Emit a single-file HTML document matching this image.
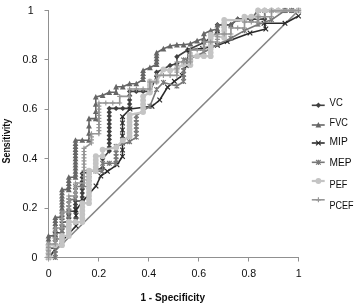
<!DOCTYPE html>
<html><head><meta charset="utf-8"><title>ROC curves</title>
<style>
html,body{margin:0;padding:0;background:#fff;}
svg{display:block;}
text{font-family:"Liberation Sans",sans-serif;fill:#0d0d0d;}
</style></head><body>
<svg width="360" height="305" viewBox="0 0 360 305">
<defs><filter id="soft" x="-2%" y="-2%" width="104%" height="104%"><feGaussianBlur stdDeviation="0.4"/></filter></defs>
<rect width="360" height="305" fill="#fff"/>
<g filter="url(#soft)">

<g stroke="#909090" stroke-width="1" fill="none">
<path d="M48.5,10 V257.5 H299"/>
<path d="M44.5,257.5 H48.5"/>
<path d="M48.5,257.5 V261.5"/>
<path d="M44.5,208.5 H48.5"/>
<path d="M98.5,257.5 V261.5"/>
<path d="M44.5,158.5 H48.5"/>
<path d="M148.5,257.5 V261.5"/>
<path d="M44.5,109.5 H48.5"/>
<path d="M198.5,257.5 V261.5"/>
<path d="M44.5,59.5 H48.5"/>
<path d="M248.5,257.5 V261.5"/>
<path d="M44.5,10.5 H48.5"/>
<path d="M298.5,257.5 V261.5"/>
</g>
<path d="M48.5,257.5 L298.5,10.5" stroke="#858585" stroke-width="1.65" fill="none"/>
<g><path d="M48.5,257.5 L48.5,248.2 L55.3,248.2 L55.3,232.8 L62.0,232.8 L62.0,222.0 L68.8,222.0 L68.8,211.2 L75.5,211.2 L75.5,201.0 L82.3,201.0 L82.3,173.5 L102.6,168.0 L102.6,158.7 L109.3,151.0 L109.3,108.4 L129.6,108.4 L129.6,91.4 L149.9,91.4 L156.6,76.3 L156.6,72.2 L170.1,65.5 L176.9,63.6 L176.9,56.8 L187.7,50.0 L203.9,42.6 L217.4,32.4 L217.4,24.7 L230.9,24.7 L237.7,19.1 L264.7,19.1 L264.7,10.5 L298.5,10.5" stroke="#404040" stroke-width="1.6" fill="none" stroke-linejoin="round"/><path d="M48.5,254.8 l2.7,2.7 l-2.7,2.7 l-2.7,-2.7z" fill="#404040"/><path d="M48.5,245.5 l2.7,2.7 l-2.7,2.7 l-2.7,-2.7z" fill="#404040"/><path d="M55.3,245.5 l2.7,2.7 l-2.7,2.7 l-2.7,-2.7z" fill="#404040"/><path d="M55.3,241.7 l2.7,2.7 l-2.7,2.7 l-2.7,-2.7z" fill="#404040"/><path d="M55.3,237.8 l2.7,2.7 l-2.7,2.7 l-2.7,-2.7z" fill="#404040"/><path d="M55.3,234.0 l2.7,2.7 l-2.7,2.7 l-2.7,-2.7z" fill="#404040"/><path d="M55.3,230.1 l2.7,2.7 l-2.7,2.7 l-2.7,-2.7z" fill="#404040"/><path d="M62.0,230.1 l2.7,2.7 l-2.7,2.7 l-2.7,-2.7z" fill="#404040"/><path d="M62.0,226.5 l2.7,2.7 l-2.7,2.7 l-2.7,-2.7z" fill="#404040"/><path d="M62.0,222.9 l2.7,2.7 l-2.7,2.7 l-2.7,-2.7z" fill="#404040"/><path d="M62.0,219.3 l2.7,2.7 l-2.7,2.7 l-2.7,-2.7z" fill="#404040"/><path d="M68.8,219.3 l2.7,2.7 l-2.7,2.7 l-2.7,-2.7z" fill="#404040"/><path d="M68.8,215.7 l2.7,2.7 l-2.7,2.7 l-2.7,-2.7z" fill="#404040"/><path d="M68.8,212.1 l2.7,2.7 l-2.7,2.7 l-2.7,-2.7z" fill="#404040"/><path d="M68.8,208.5 l2.7,2.7 l-2.7,2.7 l-2.7,-2.7z" fill="#404040"/><path d="M75.5,208.5 l2.7,2.7 l-2.7,2.7 l-2.7,-2.7z" fill="#404040"/><path d="M75.5,205.1 l2.7,2.7 l-2.7,2.7 l-2.7,-2.7z" fill="#404040"/><path d="M75.5,201.7 l2.7,2.7 l-2.7,2.7 l-2.7,-2.7z" fill="#404040"/><path d="M75.5,198.3 l2.7,2.7 l-2.7,2.7 l-2.7,-2.7z" fill="#404040"/><path d="M82.3,198.3 l2.7,2.7 l-2.7,2.7 l-2.7,-2.7z" fill="#404040"/><path d="M82.3,194.4 l2.7,2.7 l-2.7,2.7 l-2.7,-2.7z" fill="#404040"/><path d="M82.3,190.4 l2.7,2.7 l-2.7,2.7 l-2.7,-2.7z" fill="#404040"/><path d="M82.3,186.5 l2.7,2.7 l-2.7,2.7 l-2.7,-2.7z" fill="#404040"/><path d="M82.3,182.6 l2.7,2.7 l-2.7,2.7 l-2.7,-2.7z" fill="#404040"/><path d="M82.3,178.7 l2.7,2.7 l-2.7,2.7 l-2.7,-2.7z" fill="#404040"/><path d="M82.3,174.7 l2.7,2.7 l-2.7,2.7 l-2.7,-2.7z" fill="#404040"/><path d="M82.3,170.8 l2.7,2.7 l-2.7,2.7 l-2.7,-2.7z" fill="#404040"/><path d="M102.6,165.3 l2.7,2.7 l-2.7,2.7 l-2.7,-2.7z" fill="#404040"/><path d="M102.6,156.0 l2.7,2.7 l-2.7,2.7 l-2.7,-2.7z" fill="#404040"/><path d="M109.3,148.3 l2.7,2.7 l-2.7,2.7 l-2.7,-2.7z" fill="#404040"/><path d="M109.3,144.4 l2.7,2.7 l-2.7,2.7 l-2.7,-2.7z" fill="#404040"/><path d="M109.3,140.5 l2.7,2.7 l-2.7,2.7 l-2.7,-2.7z" fill="#404040"/><path d="M109.3,136.7 l2.7,2.7 l-2.7,2.7 l-2.7,-2.7z" fill="#404040"/><path d="M109.3,132.8 l2.7,2.7 l-2.7,2.7 l-2.7,-2.7z" fill="#404040"/><path d="M109.3,128.9 l2.7,2.7 l-2.7,2.7 l-2.7,-2.7z" fill="#404040"/><path d="M109.3,125.0 l2.7,2.7 l-2.7,2.7 l-2.7,-2.7z" fill="#404040"/><path d="M109.3,121.2 l2.7,2.7 l-2.7,2.7 l-2.7,-2.7z" fill="#404040"/><path d="M109.3,117.3 l2.7,2.7 l-2.7,2.7 l-2.7,-2.7z" fill="#404040"/><path d="M109.3,113.4 l2.7,2.7 l-2.7,2.7 l-2.7,-2.7z" fill="#404040"/><path d="M109.3,109.5 l2.7,2.7 l-2.7,2.7 l-2.7,-2.7z" fill="#404040"/><path d="M109.3,105.7 l2.7,2.7 l-2.7,2.7 l-2.7,-2.7z" fill="#404040"/><path d="M116.1,105.7 l2.7,2.7 l-2.7,2.7 l-2.7,-2.7z" fill="#404040"/><path d="M122.8,105.7 l2.7,2.7 l-2.7,2.7 l-2.7,-2.7z" fill="#404040"/><path d="M129.6,105.7 l2.7,2.7 l-2.7,2.7 l-2.7,-2.7z" fill="#404040"/><path d="M129.6,101.4 l2.7,2.7 l-2.7,2.7 l-2.7,-2.7z" fill="#404040"/><path d="M129.6,97.2 l2.7,2.7 l-2.7,2.7 l-2.7,-2.7z" fill="#404040"/><path d="M129.6,92.9 l2.7,2.7 l-2.7,2.7 l-2.7,-2.7z" fill="#404040"/><path d="M129.6,88.7 l2.7,2.7 l-2.7,2.7 l-2.7,-2.7z" fill="#404040"/><path d="M136.3,88.7 l2.7,2.7 l-2.7,2.7 l-2.7,-2.7z" fill="#404040"/><path d="M143.1,88.7 l2.7,2.7 l-2.7,2.7 l-2.7,-2.7z" fill="#404040"/><path d="M149.9,88.7 l2.7,2.7 l-2.7,2.7 l-2.7,-2.7z" fill="#404040"/><path d="M156.6,73.6 l2.7,2.7 l-2.7,2.7 l-2.7,-2.7z" fill="#404040"/><path d="M156.6,69.5 l2.7,2.7 l-2.7,2.7 l-2.7,-2.7z" fill="#404040"/><path d="M170.1,62.8 l2.7,2.7 l-2.7,2.7 l-2.7,-2.7z" fill="#404040"/><path d="M176.9,60.9 l2.7,2.7 l-2.7,2.7 l-2.7,-2.7z" fill="#404040"/><path d="M176.9,54.1 l2.7,2.7 l-2.7,2.7 l-2.7,-2.7z" fill="#404040"/><path d="M187.7,47.3 l2.7,2.7 l-2.7,2.7 l-2.7,-2.7z" fill="#404040"/><path d="M203.9,39.9 l2.7,2.7 l-2.7,2.7 l-2.7,-2.7z" fill="#404040"/><path d="M217.4,29.7 l2.7,2.7 l-2.7,2.7 l-2.7,-2.7z" fill="#404040"/><path d="M217.4,22.0 l2.7,2.7 l-2.7,2.7 l-2.7,-2.7z" fill="#404040"/><path d="M224.2,22.0 l2.7,2.7 l-2.7,2.7 l-2.7,-2.7z" fill="#404040"/><path d="M230.9,22.0 l2.7,2.7 l-2.7,2.7 l-2.7,-2.7z" fill="#404040"/><path d="M237.7,16.4 l2.7,2.7 l-2.7,2.7 l-2.7,-2.7z" fill="#404040"/><path d="M244.4,16.4 l2.7,2.7 l-2.7,2.7 l-2.7,-2.7z" fill="#404040"/><path d="M251.2,16.4 l2.7,2.7 l-2.7,2.7 l-2.7,-2.7z" fill="#404040"/><path d="M258.0,16.4 l2.7,2.7 l-2.7,2.7 l-2.7,-2.7z" fill="#404040"/><path d="M264.7,16.4 l2.7,2.7 l-2.7,2.7 l-2.7,-2.7z" fill="#404040"/><path d="M264.7,7.8 l2.7,2.7 l-2.7,2.7 l-2.7,-2.7z" fill="#404040"/><path d="M271.5,7.8 l2.7,2.7 l-2.7,2.7 l-2.7,-2.7z" fill="#404040"/><path d="M278.2,7.8 l2.7,2.7 l-2.7,2.7 l-2.7,-2.7z" fill="#404040"/><path d="M285.0,7.8 l2.7,2.7 l-2.7,2.7 l-2.7,-2.7z" fill="#404040"/><path d="M291.7,7.8 l2.7,2.7 l-2.7,2.7 l-2.7,-2.7z" fill="#404040"/><path d="M298.5,7.8 l2.7,2.7 l-2.7,2.7 l-2.7,-2.7z" fill="#404040"/></g>
<g><path d="M48.5,257.5 L48.5,235.9 L55.3,235.9 L55.3,217.4 L62.0,217.4 L62.0,189.6 L68.8,189.6 L68.8,177.2 L75.5,177.2 L75.5,140.2 L89.0,140.2 L89.0,133.1 L89.0,126.0 L89.0,118.6 L95.8,118.6 L95.8,111.5 L95.8,104.1 L95.8,97.0 L102.6,95.4 L109.3,92.3 L116.1,92.3 L116.1,86.8 L122.8,86.8 L129.6,83.7 L136.3,83.7 L143.1,79.4 L143.1,70.4 L149.9,67.6 L156.6,64.5 L156.6,52.8 L163.4,48.8 L170.1,46.0 L176.9,44.8 L183.6,44.8 L190.4,43.8 L197.1,40.8 L203.9,38.6 L203.9,33.7 L210.7,30.6 L217.4,29.0 L217.4,25.0 L230.9,25.0 L237.7,19.1 L251.2,19.1 L258.0,10.5 L298.5,10.5" stroke="#666666" stroke-width="1.6" fill="none" stroke-linejoin="round"/><path d="M48.5,254.5 l2.9,5.6 h-5.8z" fill="#666666"/><path d="M48.5,251.4 l2.9,5.6 h-5.8z" fill="#666666"/><path d="M48.5,248.3 l2.9,5.6 h-5.8z" fill="#666666"/><path d="M48.5,245.2 l2.9,5.6 h-5.8z" fill="#666666"/><path d="M48.5,242.2 l2.9,5.6 h-5.8z" fill="#666666"/><path d="M48.5,239.1 l2.9,5.6 h-5.8z" fill="#666666"/><path d="M48.5,236.0 l2.9,5.6 h-5.8z" fill="#666666"/><path d="M48.5,232.9 l2.9,5.6 h-5.8z" fill="#666666"/><path d="M55.3,232.9 l2.9,5.6 h-5.8z" fill="#666666"/><path d="M55.3,229.8 l2.9,5.6 h-5.8z" fill="#666666"/><path d="M55.3,226.7 l2.9,5.6 h-5.8z" fill="#666666"/><path d="M55.3,223.6 l2.9,5.6 h-5.8z" fill="#666666"/><path d="M55.3,220.5 l2.9,5.6 h-5.8z" fill="#666666"/><path d="M55.3,217.5 l2.9,5.6 h-5.8z" fill="#666666"/><path d="M55.3,214.4 l2.9,5.6 h-5.8z" fill="#666666"/><path d="M62.0,214.4 l2.9,5.6 h-5.8z" fill="#666666"/><path d="M62.0,211.3 l2.9,5.6 h-5.8z" fill="#666666"/><path d="M62.0,208.2 l2.9,5.6 h-5.8z" fill="#666666"/><path d="M62.0,205.1 l2.9,5.6 h-5.8z" fill="#666666"/><path d="M62.0,202.0 l2.9,5.6 h-5.8z" fill="#666666"/><path d="M62.0,198.9 l2.9,5.6 h-5.8z" fill="#666666"/><path d="M62.0,195.8 l2.9,5.6 h-5.8z" fill="#666666"/><path d="M62.0,192.8 l2.9,5.6 h-5.8z" fill="#666666"/><path d="M62.0,189.7 l2.9,5.6 h-5.8z" fill="#666666"/><path d="M62.0,186.6 l2.9,5.6 h-5.8z" fill="#666666"/><path d="M68.8,186.6 l2.9,5.6 h-5.8z" fill="#666666"/><path d="M68.8,183.5 l2.9,5.6 h-5.8z" fill="#666666"/><path d="M68.8,180.4 l2.9,5.6 h-5.8z" fill="#666666"/><path d="M68.8,177.3 l2.9,5.6 h-5.8z" fill="#666666"/><path d="M68.8,174.2 l2.9,5.6 h-5.8z" fill="#666666"/><path d="M75.5,174.2 l2.9,5.6 h-5.8z" fill="#666666"/><path d="M75.5,171.1 l2.9,5.6 h-5.8z" fill="#666666"/><path d="M75.5,168.1 l2.9,5.6 h-5.8z" fill="#666666"/><path d="M75.5,165.0 l2.9,5.6 h-5.8z" fill="#666666"/><path d="M75.5,161.9 l2.9,5.6 h-5.8z" fill="#666666"/><path d="M75.5,158.8 l2.9,5.6 h-5.8z" fill="#666666"/><path d="M75.5,155.7 l2.9,5.6 h-5.8z" fill="#666666"/><path d="M75.5,152.6 l2.9,5.6 h-5.8z" fill="#666666"/><path d="M75.5,149.5 l2.9,5.6 h-5.8z" fill="#666666"/><path d="M75.5,146.4 l2.9,5.6 h-5.8z" fill="#666666"/><path d="M75.5,143.4 l2.9,5.6 h-5.8z" fill="#666666"/><path d="M75.5,140.3 l2.9,5.6 h-5.8z" fill="#666666"/><path d="M75.5,137.2 l2.9,5.6 h-5.8z" fill="#666666"/><path d="M82.3,137.2 l2.9,5.6 h-5.8z" fill="#666666"/><path d="M89.0,137.2 l2.9,5.6 h-5.8z" fill="#666666"/><path d="M89.0,130.1 l2.9,5.6 h-5.8z" fill="#666666"/><path d="M89.0,123.0 l2.9,5.6 h-5.8z" fill="#666666"/><path d="M89.0,115.6 l2.9,5.6 h-5.8z" fill="#666666"/><path d="M95.8,115.6 l2.9,5.6 h-5.8z" fill="#666666"/><path d="M95.8,108.5 l2.9,5.6 h-5.8z" fill="#666666"/><path d="M95.8,101.1 l2.9,5.6 h-5.8z" fill="#666666"/><path d="M95.8,94.0 l2.9,5.6 h-5.8z" fill="#666666"/><path d="M102.6,92.4 l2.9,5.6 h-5.8z" fill="#666666"/><path d="M109.3,89.3 l2.9,5.6 h-5.8z" fill="#666666"/><path d="M116.1,89.3 l2.9,5.6 h-5.8z" fill="#666666"/><path d="M116.1,83.8 l2.9,5.6 h-5.8z" fill="#666666"/><path d="M122.8,83.8 l2.9,5.6 h-5.8z" fill="#666666"/><path d="M129.6,80.7 l2.9,5.6 h-5.8z" fill="#666666"/><path d="M136.3,80.7 l2.9,5.6 h-5.8z" fill="#666666"/><path d="M143.1,76.4 l2.9,5.6 h-5.8z" fill="#666666"/><path d="M143.1,73.4 l2.9,5.6 h-5.8z" fill="#666666"/><path d="M143.1,70.4 l2.9,5.6 h-5.8z" fill="#666666"/><path d="M143.1,67.4 l2.9,5.6 h-5.8z" fill="#666666"/><path d="M149.9,64.6 l2.9,5.6 h-5.8z" fill="#666666"/><path d="M156.6,61.5 l2.9,5.6 h-5.8z" fill="#666666"/><path d="M156.6,58.6 l2.9,5.6 h-5.8z" fill="#666666"/><path d="M156.6,55.7 l2.9,5.6 h-5.8z" fill="#666666"/><path d="M156.6,52.7 l2.9,5.6 h-5.8z" fill="#666666"/><path d="M156.6,49.8 l2.9,5.6 h-5.8z" fill="#666666"/><path d="M163.4,45.8 l2.9,5.6 h-5.8z" fill="#666666"/><path d="M170.1,43.0 l2.9,5.6 h-5.8z" fill="#666666"/><path d="M176.9,41.8 l2.9,5.6 h-5.8z" fill="#666666"/><path d="M183.6,41.8 l2.9,5.6 h-5.8z" fill="#666666"/><path d="M190.4,40.8 l2.9,5.6 h-5.8z" fill="#666666"/><path d="M197.1,37.8 l2.9,5.6 h-5.8z" fill="#666666"/><path d="M203.9,35.6 l2.9,5.6 h-5.8z" fill="#666666"/><path d="M203.9,30.7 l2.9,5.6 h-5.8z" fill="#666666"/><path d="M210.7,27.6 l2.9,5.6 h-5.8z" fill="#666666"/><path d="M217.4,26.0 l2.9,5.6 h-5.8z" fill="#666666"/><path d="M217.4,22.0 l2.9,5.6 h-5.8z" fill="#666666"/><path d="M224.2,22.0 l2.9,5.6 h-5.8z" fill="#666666"/><path d="M230.9,22.0 l2.9,5.6 h-5.8z" fill="#666666"/><path d="M237.7,16.1 l2.9,5.6 h-5.8z" fill="#666666"/><path d="M244.4,16.1 l2.9,5.6 h-5.8z" fill="#666666"/><path d="M251.2,16.1 l2.9,5.6 h-5.8z" fill="#666666"/><path d="M258.0,7.5 l2.9,5.6 h-5.8z" fill="#666666"/><path d="M264.7,7.5 l2.9,5.6 h-5.8z" fill="#666666"/><path d="M271.5,7.5 l2.9,5.6 h-5.8z" fill="#666666"/><path d="M278.2,7.5 l2.9,5.6 h-5.8z" fill="#666666"/><path d="M285.0,7.5 l2.9,5.6 h-5.8z" fill="#666666"/><path d="M291.7,7.5 l2.9,5.6 h-5.8z" fill="#666666"/><path d="M298.5,7.5 l2.9,5.6 h-5.8z" fill="#666666"/></g>
<g><path d="M48.5,257.5 L62.7,240.2 L76.0,226.0 L76.0,220.5 L76.0,215.5 L76.0,210.0 L83.0,201.0 L96.0,186.0 L100.8,176.0 L107.4,171.3 L117.0,164.8 L122.5,156.5 L122.5,150.0 L122.5,143.0 L122.5,136.0 L122.5,130.0 L122.5,123.0 L122.5,116.7 L130.0,109.0 L152.0,106.3 L159.7,100.0 L167.6,87.2 L174.4,81.3 L182.3,75.4 L186.3,65.6 L189.0,50.0 L202.6,48.4 L217.4,45.4 L227.2,41.5 L250.0,33.0 L265.8,29.0 L264.0,23.3 L285.0,23.3 L298.5,16.0" stroke="#2a2a2a" stroke-width="1.6" fill="none" stroke-linejoin="round"/><path d="M46.2,255.2 l4.6,4.6 m0,-4.6 l-4.6,4.6" stroke="#2a2a2a" stroke-width="1.15" fill="none"/><path d="M60.4,237.9 l4.6,4.6 m0,-4.6 l-4.6,4.6" stroke="#2a2a2a" stroke-width="1.15" fill="none"/><path d="M73.7,223.7 l4.6,4.6 m0,-4.6 l-4.6,4.6" stroke="#2a2a2a" stroke-width="1.15" fill="none"/><path d="M73.7,218.2 l4.6,4.6 m0,-4.6 l-4.6,4.6" stroke="#2a2a2a" stroke-width="1.15" fill="none"/><path d="M73.7,213.2 l4.6,4.6 m0,-4.6 l-4.6,4.6" stroke="#2a2a2a" stroke-width="1.15" fill="none"/><path d="M73.7,207.7 l4.6,4.6 m0,-4.6 l-4.6,4.6" stroke="#2a2a2a" stroke-width="1.15" fill="none"/><path d="M80.7,198.7 l4.6,4.6 m0,-4.6 l-4.6,4.6" stroke="#2a2a2a" stroke-width="1.15" fill="none"/><path d="M93.7,183.7 l4.6,4.6 m0,-4.6 l-4.6,4.6" stroke="#2a2a2a" stroke-width="1.15" fill="none"/><path d="M98.5,173.7 l4.6,4.6 m0,-4.6 l-4.6,4.6" stroke="#2a2a2a" stroke-width="1.15" fill="none"/><path d="M105.1,169.0 l4.6,4.6 m0,-4.6 l-4.6,4.6" stroke="#2a2a2a" stroke-width="1.15" fill="none"/><path d="M114.7,162.5 l4.6,4.6 m0,-4.6 l-4.6,4.6" stroke="#2a2a2a" stroke-width="1.15" fill="none"/><path d="M120.2,154.2 l4.6,4.6 m0,-4.6 l-4.6,4.6" stroke="#2a2a2a" stroke-width="1.15" fill="none"/><path d="M120.2,147.7 l4.6,4.6 m0,-4.6 l-4.6,4.6" stroke="#2a2a2a" stroke-width="1.15" fill="none"/><path d="M120.2,140.7 l4.6,4.6 m0,-4.6 l-4.6,4.6" stroke="#2a2a2a" stroke-width="1.15" fill="none"/><path d="M120.2,133.7 l4.6,4.6 m0,-4.6 l-4.6,4.6" stroke="#2a2a2a" stroke-width="1.15" fill="none"/><path d="M120.2,127.7 l4.6,4.6 m0,-4.6 l-4.6,4.6" stroke="#2a2a2a" stroke-width="1.15" fill="none"/><path d="M120.2,120.7 l4.6,4.6 m0,-4.6 l-4.6,4.6" stroke="#2a2a2a" stroke-width="1.15" fill="none"/><path d="M120.2,114.4 l4.6,4.6 m0,-4.6 l-4.6,4.6" stroke="#2a2a2a" stroke-width="1.15" fill="none"/><path d="M127.7,106.7 l4.6,4.6 m0,-4.6 l-4.6,4.6" stroke="#2a2a2a" stroke-width="1.15" fill="none"/><path d="M149.7,104.0 l4.6,4.6 m0,-4.6 l-4.6,4.6" stroke="#2a2a2a" stroke-width="1.15" fill="none"/><path d="M157.4,97.7 l4.6,4.6 m0,-4.6 l-4.6,4.6" stroke="#2a2a2a" stroke-width="1.15" fill="none"/><path d="M165.3,84.9 l4.6,4.6 m0,-4.6 l-4.6,4.6" stroke="#2a2a2a" stroke-width="1.15" fill="none"/><path d="M172.1,79.0 l4.6,4.6 m0,-4.6 l-4.6,4.6" stroke="#2a2a2a" stroke-width="1.15" fill="none"/><path d="M180.0,73.1 l4.6,4.6 m0,-4.6 l-4.6,4.6" stroke="#2a2a2a" stroke-width="1.15" fill="none"/><path d="M184.0,63.3 l4.6,4.6 m0,-4.6 l-4.6,4.6" stroke="#2a2a2a" stroke-width="1.15" fill="none"/><path d="M186.7,47.7 l4.6,4.6 m0,-4.6 l-4.6,4.6" stroke="#2a2a2a" stroke-width="1.15" fill="none"/><path d="M200.3,46.1 l4.6,4.6 m0,-4.6 l-4.6,4.6" stroke="#2a2a2a" stroke-width="1.15" fill="none"/><path d="M215.1,43.1 l4.6,4.6 m0,-4.6 l-4.6,4.6" stroke="#2a2a2a" stroke-width="1.15" fill="none"/><path d="M224.9,39.2 l4.6,4.6 m0,-4.6 l-4.6,4.6" stroke="#2a2a2a" stroke-width="1.15" fill="none"/><path d="M247.7,30.7 l4.6,4.6 m0,-4.6 l-4.6,4.6" stroke="#2a2a2a" stroke-width="1.15" fill="none"/><path d="M263.5,26.7 l4.6,4.6 m0,-4.6 l-4.6,4.6" stroke="#2a2a2a" stroke-width="1.15" fill="none"/><path d="M261.7,21.0 l4.6,4.6 m0,-4.6 l-4.6,4.6" stroke="#2a2a2a" stroke-width="1.15" fill="none"/><path d="M282.7,21.0 l4.6,4.6 m0,-4.6 l-4.6,4.6" stroke="#2a2a2a" stroke-width="1.15" fill="none"/><path d="M296.2,13.7 l4.6,4.6 m0,-4.6 l-4.6,4.6" stroke="#2a2a2a" stroke-width="1.15" fill="none"/></g>
<g><path d="M48.5,257.5 L55.3,257.5 L55.3,239.0 L62.0,239.0 L62.0,226.6 L68.8,226.6 L68.8,200.4 L75.5,198.8 L75.5,186.5 L89.0,186.5 L89.0,171.1 L102.6,171.1 L102.6,163.3 L116.1,163.3 L116.1,146.4 L129.6,141.7 L136.3,137.1 L136.3,115.5 L149.9,106.2 L156.6,89.5 L163.4,82.4 L176.9,86.1 L183.6,81.5 L183.6,59.9 L190.4,58.4 L203.9,52.2 L217.4,44.5 L230.9,38.3 L244.4,30.6 L258.0,24.4 L271.5,19.8 L285.0,10.5 L298.5,10.5" stroke="#787878" stroke-width="1.6" fill="none" stroke-linejoin="round"/><path d="M46.2,255.2 l4.6,4.6 m0,-4.6 l-4.6,4.6 m2.3,-4.9 v5.2" stroke="#787878" stroke-width="1.15" fill="none"/><path d="M53.0,255.2 l4.6,4.6 m0,-4.6 l-4.6,4.6 m2.3,-4.9 v5.2" stroke="#787878" stroke-width="1.15" fill="none"/><path d="M53.0,251.5 l4.6,4.6 m0,-4.6 l-4.6,4.6 m2.3,-4.9 v5.2" stroke="#787878" stroke-width="1.15" fill="none"/><path d="M53.0,247.8 l4.6,4.6 m0,-4.6 l-4.6,4.6 m2.3,-4.9 v5.2" stroke="#787878" stroke-width="1.15" fill="none"/><path d="M53.0,244.1 l4.6,4.6 m0,-4.6 l-4.6,4.6 m2.3,-4.9 v5.2" stroke="#787878" stroke-width="1.15" fill="none"/><path d="M53.0,240.4 l4.6,4.6 m0,-4.6 l-4.6,4.6 m2.3,-4.9 v5.2" stroke="#787878" stroke-width="1.15" fill="none"/><path d="M53.0,236.7 l4.6,4.6 m0,-4.6 l-4.6,4.6 m2.3,-4.9 v5.2" stroke="#787878" stroke-width="1.15" fill="none"/><path d="M59.7,236.7 l4.6,4.6 m0,-4.6 l-4.6,4.6 m2.3,-4.9 v5.2" stroke="#787878" stroke-width="1.15" fill="none"/><path d="M59.7,232.6 l4.6,4.6 m0,-4.6 l-4.6,4.6 m2.3,-4.9 v5.2" stroke="#787878" stroke-width="1.15" fill="none"/><path d="M59.7,228.4 l4.6,4.6 m0,-4.6 l-4.6,4.6 m2.3,-4.9 v5.2" stroke="#787878" stroke-width="1.15" fill="none"/><path d="M59.7,224.3 l4.6,4.6 m0,-4.6 l-4.6,4.6 m2.3,-4.9 v5.2" stroke="#787878" stroke-width="1.15" fill="none"/><path d="M66.5,224.3 l4.6,4.6 m0,-4.6 l-4.6,4.6 m2.3,-4.9 v5.2" stroke="#787878" stroke-width="1.15" fill="none"/><path d="M66.5,220.6 l4.6,4.6 m0,-4.6 l-4.6,4.6 m2.3,-4.9 v5.2" stroke="#787878" stroke-width="1.15" fill="none"/><path d="M66.5,216.8 l4.6,4.6 m0,-4.6 l-4.6,4.6 m2.3,-4.9 v5.2" stroke="#787878" stroke-width="1.15" fill="none"/><path d="M66.5,213.1 l4.6,4.6 m0,-4.6 l-4.6,4.6 m2.3,-4.9 v5.2" stroke="#787878" stroke-width="1.15" fill="none"/><path d="M66.5,209.3 l4.6,4.6 m0,-4.6 l-4.6,4.6 m2.3,-4.9 v5.2" stroke="#787878" stroke-width="1.15" fill="none"/><path d="M66.5,205.6 l4.6,4.6 m0,-4.6 l-4.6,4.6 m2.3,-4.9 v5.2" stroke="#787878" stroke-width="1.15" fill="none"/><path d="M66.5,201.8 l4.6,4.6 m0,-4.6 l-4.6,4.6 m2.3,-4.9 v5.2" stroke="#787878" stroke-width="1.15" fill="none"/><path d="M66.5,198.1 l4.6,4.6 m0,-4.6 l-4.6,4.6 m2.3,-4.9 v5.2" stroke="#787878" stroke-width="1.15" fill="none"/><path d="M73.2,196.5 l4.6,4.6 m0,-4.6 l-4.6,4.6 m2.3,-4.9 v5.2" stroke="#787878" stroke-width="1.15" fill="none"/><path d="M73.2,192.4 l4.6,4.6 m0,-4.6 l-4.6,4.6 m2.3,-4.9 v5.2" stroke="#787878" stroke-width="1.15" fill="none"/><path d="M73.2,188.3 l4.6,4.6 m0,-4.6 l-4.6,4.6 m2.3,-4.9 v5.2" stroke="#787878" stroke-width="1.15" fill="none"/><path d="M73.2,184.2 l4.6,4.6 m0,-4.6 l-4.6,4.6 m2.3,-4.9 v5.2" stroke="#787878" stroke-width="1.15" fill="none"/><path d="M80.0,184.2 l4.6,4.6 m0,-4.6 l-4.6,4.6 m2.3,-4.9 v5.2" stroke="#787878" stroke-width="1.15" fill="none"/><path d="M86.7,184.2 l4.6,4.6 m0,-4.6 l-4.6,4.6 m2.3,-4.9 v5.2" stroke="#787878" stroke-width="1.15" fill="none"/><path d="M86.7,180.3 l4.6,4.6 m0,-4.6 l-4.6,4.6 m2.3,-4.9 v5.2" stroke="#787878" stroke-width="1.15" fill="none"/><path d="M86.7,176.5 l4.6,4.6 m0,-4.6 l-4.6,4.6 m2.3,-4.9 v5.2" stroke="#787878" stroke-width="1.15" fill="none"/><path d="M86.7,172.6 l4.6,4.6 m0,-4.6 l-4.6,4.6 m2.3,-4.9 v5.2" stroke="#787878" stroke-width="1.15" fill="none"/><path d="M86.7,168.8 l4.6,4.6 m0,-4.6 l-4.6,4.6 m2.3,-4.9 v5.2" stroke="#787878" stroke-width="1.15" fill="none"/><path d="M93.5,168.8 l4.6,4.6 m0,-4.6 l-4.6,4.6 m2.3,-4.9 v5.2" stroke="#787878" stroke-width="1.15" fill="none"/><path d="M100.3,168.8 l4.6,4.6 m0,-4.6 l-4.6,4.6 m2.3,-4.9 v5.2" stroke="#787878" stroke-width="1.15" fill="none"/><path d="M100.3,161.0 l4.6,4.6 m0,-4.6 l-4.6,4.6 m2.3,-4.9 v5.2" stroke="#787878" stroke-width="1.15" fill="none"/><path d="M107.0,161.0 l4.6,4.6 m0,-4.6 l-4.6,4.6 m2.3,-4.9 v5.2" stroke="#787878" stroke-width="1.15" fill="none"/><path d="M113.8,161.0 l4.6,4.6 m0,-4.6 l-4.6,4.6 m2.3,-4.9 v5.2" stroke="#787878" stroke-width="1.15" fill="none"/><path d="M113.8,157.6 l4.6,4.6 m0,-4.6 l-4.6,4.6 m2.3,-4.9 v5.2" stroke="#787878" stroke-width="1.15" fill="none"/><path d="M113.8,154.2 l4.6,4.6 m0,-4.6 l-4.6,4.6 m2.3,-4.9 v5.2" stroke="#787878" stroke-width="1.15" fill="none"/><path d="M113.8,150.8 l4.6,4.6 m0,-4.6 l-4.6,4.6 m2.3,-4.9 v5.2" stroke="#787878" stroke-width="1.15" fill="none"/><path d="M113.8,147.4 l4.6,4.6 m0,-4.6 l-4.6,4.6 m2.3,-4.9 v5.2" stroke="#787878" stroke-width="1.15" fill="none"/><path d="M113.8,144.1 l4.6,4.6 m0,-4.6 l-4.6,4.6 m2.3,-4.9 v5.2" stroke="#787878" stroke-width="1.15" fill="none"/><path d="M127.3,139.4 l4.6,4.6 m0,-4.6 l-4.6,4.6 m2.3,-4.9 v5.2" stroke="#787878" stroke-width="1.15" fill="none"/><path d="M134.0,134.8 l4.6,4.6 m0,-4.6 l-4.6,4.6 m2.3,-4.9 v5.2" stroke="#787878" stroke-width="1.15" fill="none"/><path d="M134.0,131.2 l4.6,4.6 m0,-4.6 l-4.6,4.6 m2.3,-4.9 v5.2" stroke="#787878" stroke-width="1.15" fill="none"/><path d="M134.0,127.6 l4.6,4.6 m0,-4.6 l-4.6,4.6 m2.3,-4.9 v5.2" stroke="#787878" stroke-width="1.15" fill="none"/><path d="M134.0,124.0 l4.6,4.6 m0,-4.6 l-4.6,4.6 m2.3,-4.9 v5.2" stroke="#787878" stroke-width="1.15" fill="none"/><path d="M134.0,120.4 l4.6,4.6 m0,-4.6 l-4.6,4.6 m2.3,-4.9 v5.2" stroke="#787878" stroke-width="1.15" fill="none"/><path d="M134.0,116.8 l4.6,4.6 m0,-4.6 l-4.6,4.6 m2.3,-4.9 v5.2" stroke="#787878" stroke-width="1.15" fill="none"/><path d="M134.0,113.2 l4.6,4.6 m0,-4.6 l-4.6,4.6 m2.3,-4.9 v5.2" stroke="#787878" stroke-width="1.15" fill="none"/><path d="M147.6,103.9 l4.6,4.6 m0,-4.6 l-4.6,4.6 m2.3,-4.9 v5.2" stroke="#787878" stroke-width="1.15" fill="none"/><path d="M154.3,87.2 l4.6,4.6 m0,-4.6 l-4.6,4.6 m2.3,-4.9 v5.2" stroke="#787878" stroke-width="1.15" fill="none"/><path d="M161.1,80.1 l4.6,4.6 m0,-4.6 l-4.6,4.6 m2.3,-4.9 v5.2" stroke="#787878" stroke-width="1.15" fill="none"/><path d="M174.6,83.8 l4.6,4.6 m0,-4.6 l-4.6,4.6 m2.3,-4.9 v5.2" stroke="#787878" stroke-width="1.15" fill="none"/><path d="M181.3,79.2 l4.6,4.6 m0,-4.6 l-4.6,4.6 m2.3,-4.9 v5.2" stroke="#787878" stroke-width="1.15" fill="none"/><path d="M181.3,75.6 l4.6,4.6 m0,-4.6 l-4.6,4.6 m2.3,-4.9 v5.2" stroke="#787878" stroke-width="1.15" fill="none"/><path d="M181.3,72.0 l4.6,4.6 m0,-4.6 l-4.6,4.6 m2.3,-4.9 v5.2" stroke="#787878" stroke-width="1.15" fill="none"/><path d="M181.3,68.4 l4.6,4.6 m0,-4.6 l-4.6,4.6 m2.3,-4.9 v5.2" stroke="#787878" stroke-width="1.15" fill="none"/><path d="M181.3,64.8 l4.6,4.6 m0,-4.6 l-4.6,4.6 m2.3,-4.9 v5.2" stroke="#787878" stroke-width="1.15" fill="none"/><path d="M181.3,61.2 l4.6,4.6 m0,-4.6 l-4.6,4.6 m2.3,-4.9 v5.2" stroke="#787878" stroke-width="1.15" fill="none"/><path d="M181.3,57.6 l4.6,4.6 m0,-4.6 l-4.6,4.6 m2.3,-4.9 v5.2" stroke="#787878" stroke-width="1.15" fill="none"/><path d="M188.1,56.1 l4.6,4.6 m0,-4.6 l-4.6,4.6 m2.3,-4.9 v5.2" stroke="#787878" stroke-width="1.15" fill="none"/><path d="M201.6,49.9 l4.6,4.6 m0,-4.6 l-4.6,4.6 m2.3,-4.9 v5.2" stroke="#787878" stroke-width="1.15" fill="none"/><path d="M215.1,42.2 l4.6,4.6 m0,-4.6 l-4.6,4.6 m2.3,-4.9 v5.2" stroke="#787878" stroke-width="1.15" fill="none"/><path d="M228.6,36.0 l4.6,4.6 m0,-4.6 l-4.6,4.6 m2.3,-4.9 v5.2" stroke="#787878" stroke-width="1.15" fill="none"/><path d="M242.1,28.3 l4.6,4.6 m0,-4.6 l-4.6,4.6 m2.3,-4.9 v5.2" stroke="#787878" stroke-width="1.15" fill="none"/><path d="M255.7,22.1 l4.6,4.6 m0,-4.6 l-4.6,4.6 m2.3,-4.9 v5.2" stroke="#787878" stroke-width="1.15" fill="none"/><path d="M269.2,17.5 l4.6,4.6 m0,-4.6 l-4.6,4.6 m2.3,-4.9 v5.2" stroke="#787878" stroke-width="1.15" fill="none"/><path d="M282.7,8.2 l4.6,4.6 m0,-4.6 l-4.6,4.6 m2.3,-4.9 v5.2" stroke="#787878" stroke-width="1.15" fill="none"/><path d="M289.4,8.2 l4.6,4.6 m0,-4.6 l-4.6,4.6 m2.3,-4.9 v5.2" stroke="#787878" stroke-width="1.15" fill="none"/><path d="M296.2,8.2 l4.6,4.6 m0,-4.6 l-4.6,4.6 m2.3,-4.9 v5.2" stroke="#787878" stroke-width="1.15" fill="none"/></g>
<g><path d="M48.5,257.5 L48.5,245.2 L62.0,245.2 L62.0,235.9 L68.8,235.9 L68.8,222.0 L82.3,222.0 L82.3,203.2 L89.0,203.2 L89.0,170.7 L95.8,170.7 L95.8,156.2 L102.6,156.2 L102.6,149.7 L116.1,147.6 L122.8,140.5 L129.6,136.5 L129.6,114.9 L143.1,112.1 L143.1,96.3 L149.9,92.6 L149.9,81.5 L156.6,81.5 L163.4,69.5 L170.1,70.4 L176.9,68.5 L183.6,64.5 L190.4,65.1 L190.4,56.2 L210.7,56.2 L210.7,34.6 L224.2,37.7 L224.2,19.8 L244.4,20.4 L244.4,16.7 L258.0,16.7 L258.0,10.5 L278.2,10.5 L298.5,10.5" stroke="#c4c4c4" stroke-width="2.2" fill="none" stroke-linejoin="round"/><circle cx="48.5" cy="257.5" r="2.9" fill="#c4c4c4"/><circle cx="48.5" cy="253.4" r="2.9" fill="#c4c4c4"/><circle cx="48.5" cy="249.3" r="2.9" fill="#c4c4c4"/><circle cx="48.5" cy="245.2" r="2.9" fill="#c4c4c4"/><circle cx="55.3" cy="245.2" r="2.9" fill="#c4c4c4"/><circle cx="62.0" cy="245.2" r="2.9" fill="#c4c4c4"/><circle cx="62.0" cy="242.1" r="2.9" fill="#c4c4c4"/><circle cx="62.0" cy="239.0" r="2.9" fill="#c4c4c4"/><circle cx="62.0" cy="235.9" r="2.9" fill="#c4c4c4"/><circle cx="68.8" cy="235.9" r="2.9" fill="#c4c4c4"/><circle cx="68.8" cy="232.4" r="2.9" fill="#c4c4c4"/><circle cx="68.8" cy="228.9" r="2.9" fill="#c4c4c4"/><circle cx="68.8" cy="225.5" r="2.9" fill="#c4c4c4"/><circle cx="68.8" cy="222.0" r="2.9" fill="#c4c4c4"/><circle cx="75.5" cy="222.0" r="2.9" fill="#c4c4c4"/><circle cx="82.3" cy="222.0" r="2.9" fill="#c4c4c4"/><circle cx="82.3" cy="218.2" r="2.9" fill="#c4c4c4"/><circle cx="82.3" cy="214.5" r="2.9" fill="#c4c4c4"/><circle cx="82.3" cy="210.7" r="2.9" fill="#c4c4c4"/><circle cx="82.3" cy="206.9" r="2.9" fill="#c4c4c4"/><circle cx="82.3" cy="203.2" r="2.9" fill="#c4c4c4"/><circle cx="89.0" cy="203.2" r="2.9" fill="#c4c4c4"/><circle cx="89.0" cy="199.6" r="2.9" fill="#c4c4c4"/><circle cx="89.0" cy="196.0" r="2.9" fill="#c4c4c4"/><circle cx="89.0" cy="192.4" r="2.9" fill="#c4c4c4"/><circle cx="89.0" cy="188.8" r="2.9" fill="#c4c4c4"/><circle cx="89.0" cy="185.1" r="2.9" fill="#c4c4c4"/><circle cx="89.0" cy="181.5" r="2.9" fill="#c4c4c4"/><circle cx="89.0" cy="177.9" r="2.9" fill="#c4c4c4"/><circle cx="89.0" cy="174.3" r="2.9" fill="#c4c4c4"/><circle cx="89.0" cy="170.7" r="2.9" fill="#c4c4c4"/><circle cx="95.8" cy="170.7" r="2.9" fill="#c4c4c4"/><circle cx="95.8" cy="167.1" r="2.9" fill="#c4c4c4"/><circle cx="95.8" cy="163.5" r="2.9" fill="#c4c4c4"/><circle cx="95.8" cy="159.9" r="2.9" fill="#c4c4c4"/><circle cx="95.8" cy="156.2" r="2.9" fill="#c4c4c4"/><circle cx="102.6" cy="156.2" r="2.9" fill="#c4c4c4"/><circle cx="102.6" cy="149.7" r="2.9" fill="#c4c4c4"/><circle cx="116.1" cy="147.6" r="2.9" fill="#c4c4c4"/><circle cx="122.8" cy="140.5" r="2.9" fill="#c4c4c4"/><circle cx="129.6" cy="136.5" r="2.9" fill="#c4c4c4"/><circle cx="129.6" cy="132.9" r="2.9" fill="#c4c4c4"/><circle cx="129.6" cy="129.3" r="2.9" fill="#c4c4c4"/><circle cx="129.6" cy="125.7" r="2.9" fill="#c4c4c4"/><circle cx="129.6" cy="122.1" r="2.9" fill="#c4c4c4"/><circle cx="129.6" cy="118.5" r="2.9" fill="#c4c4c4"/><circle cx="129.6" cy="114.9" r="2.9" fill="#c4c4c4"/><circle cx="143.1" cy="112.1" r="2.9" fill="#c4c4c4"/><circle cx="143.1" cy="108.1" r="2.9" fill="#c4c4c4"/><circle cx="143.1" cy="104.2" r="2.9" fill="#c4c4c4"/><circle cx="143.1" cy="100.3" r="2.9" fill="#c4c4c4"/><circle cx="143.1" cy="96.3" r="2.9" fill="#c4c4c4"/><circle cx="149.9" cy="92.6" r="2.9" fill="#c4c4c4"/><circle cx="149.9" cy="88.9" r="2.9" fill="#c4c4c4"/><circle cx="149.9" cy="85.2" r="2.9" fill="#c4c4c4"/><circle cx="149.9" cy="81.5" r="2.9" fill="#c4c4c4"/><circle cx="156.6" cy="81.5" r="2.9" fill="#c4c4c4"/><circle cx="163.4" cy="69.5" r="2.9" fill="#c4c4c4"/><circle cx="170.1" cy="70.4" r="2.9" fill="#c4c4c4"/><circle cx="176.9" cy="68.5" r="2.9" fill="#c4c4c4"/><circle cx="183.6" cy="64.5" r="2.9" fill="#c4c4c4"/><circle cx="190.4" cy="65.1" r="2.9" fill="#c4c4c4"/><circle cx="190.4" cy="60.7" r="2.9" fill="#c4c4c4"/><circle cx="190.4" cy="56.2" r="2.9" fill="#c4c4c4"/><circle cx="197.1" cy="56.2" r="2.9" fill="#c4c4c4"/><circle cx="203.9" cy="56.2" r="2.9" fill="#c4c4c4"/><circle cx="210.7" cy="56.2" r="2.9" fill="#c4c4c4"/><circle cx="210.7" cy="52.6" r="2.9" fill="#c4c4c4"/><circle cx="210.7" cy="49.0" r="2.9" fill="#c4c4c4"/><circle cx="210.7" cy="45.4" r="2.9" fill="#c4c4c4"/><circle cx="210.7" cy="41.8" r="2.9" fill="#c4c4c4"/><circle cx="210.7" cy="38.2" r="2.9" fill="#c4c4c4"/><circle cx="210.7" cy="34.6" r="2.9" fill="#c4c4c4"/><circle cx="224.2" cy="37.7" r="2.9" fill="#c4c4c4"/><circle cx="224.2" cy="34.1" r="2.9" fill="#c4c4c4"/><circle cx="224.2" cy="30.5" r="2.9" fill="#c4c4c4"/><circle cx="224.2" cy="26.9" r="2.9" fill="#c4c4c4"/><circle cx="224.2" cy="23.3" r="2.9" fill="#c4c4c4"/><circle cx="224.2" cy="19.8" r="2.9" fill="#c4c4c4"/><circle cx="244.4" cy="20.4" r="2.9" fill="#c4c4c4"/><circle cx="244.4" cy="16.7" r="2.9" fill="#c4c4c4"/><circle cx="251.2" cy="16.7" r="2.9" fill="#c4c4c4"/><circle cx="258.0" cy="16.7" r="2.9" fill="#c4c4c4"/><circle cx="258.0" cy="10.5" r="2.9" fill="#c4c4c4"/><circle cx="264.7" cy="10.5" r="2.9" fill="#c4c4c4"/><circle cx="271.5" cy="10.5" r="2.9" fill="#c4c4c4"/><circle cx="278.2" cy="10.5" r="2.9" fill="#c4c4c4"/><circle cx="298.5" cy="10.5" r="2.9" fill="#c4c4c4"/></g>
<g><path d="M48.5,257.5 L48.5,244.0 L55.3,244.0 L55.3,228.0 L62.0,228.0 L62.0,212.0 L68.8,212.0 L68.8,196.0 L75.5,196.0 L75.5,183.0 L84.0,183.0 L84.0,148.3 L91.5,143.0 L91.5,133.7 L98.9,133.7 L98.9,103.0 L119.7,103.0 L119.7,96.4 L129.6,96.4 L129.6,89.0 L149.9,89.0 L149.9,82.0 L156.6,82.0 L156.6,75.4 L176.9,75.4 L176.9,62.0 L190.4,62.0 L190.4,50.0 L203.9,50.0 L203.9,42.0 L217.4,42.0 L217.4,34.0 L230.9,34.0 L230.9,28.0 L244.5,28.0 L244.5,22.0 L258.0,22.0 L258.0,16.7 L271.5,16.7 L271.5,11.0 L298.5,10.5" stroke="#969696" stroke-width="1.6" fill="none" stroke-linejoin="round"/><path d="M46.0,257.5 h5 m-2.5,-2.5 v5" stroke="#969696" stroke-width="1.15" fill="none"/><path d="M46.0,254.1 h5 m-2.5,-2.5 v5" stroke="#969696" stroke-width="1.15" fill="none"/><path d="M46.0,250.8 h5 m-2.5,-2.5 v5" stroke="#969696" stroke-width="1.15" fill="none"/><path d="M46.0,247.4 h5 m-2.5,-2.5 v5" stroke="#969696" stroke-width="1.15" fill="none"/><path d="M46.0,244.0 h5 m-2.5,-2.5 v5" stroke="#969696" stroke-width="1.15" fill="none"/><path d="M52.8,244.0 h5 m-2.5,-2.5 v5" stroke="#969696" stroke-width="1.15" fill="none"/><path d="M52.8,240.8 h5 m-2.5,-2.5 v5" stroke="#969696" stroke-width="1.15" fill="none"/><path d="M52.8,237.6 h5 m-2.5,-2.5 v5" stroke="#969696" stroke-width="1.15" fill="none"/><path d="M52.8,234.4 h5 m-2.5,-2.5 v5" stroke="#969696" stroke-width="1.15" fill="none"/><path d="M52.8,231.2 h5 m-2.5,-2.5 v5" stroke="#969696" stroke-width="1.15" fill="none"/><path d="M52.8,228.0 h5 m-2.5,-2.5 v5" stroke="#969696" stroke-width="1.15" fill="none"/><path d="M59.5,228.0 h5 m-2.5,-2.5 v5" stroke="#969696" stroke-width="1.15" fill="none"/><path d="M59.5,224.8 h5 m-2.5,-2.5 v5" stroke="#969696" stroke-width="1.15" fill="none"/><path d="M59.5,221.6 h5 m-2.5,-2.5 v5" stroke="#969696" stroke-width="1.15" fill="none"/><path d="M59.5,218.4 h5 m-2.5,-2.5 v5" stroke="#969696" stroke-width="1.15" fill="none"/><path d="M59.5,215.2 h5 m-2.5,-2.5 v5" stroke="#969696" stroke-width="1.15" fill="none"/><path d="M59.5,212.0 h5 m-2.5,-2.5 v5" stroke="#969696" stroke-width="1.15" fill="none"/><path d="M66.3,212.0 h5 m-2.5,-2.5 v5" stroke="#969696" stroke-width="1.15" fill="none"/><path d="M66.3,208.8 h5 m-2.5,-2.5 v5" stroke="#969696" stroke-width="1.15" fill="none"/><path d="M66.3,205.6 h5 m-2.5,-2.5 v5" stroke="#969696" stroke-width="1.15" fill="none"/><path d="M66.3,202.4 h5 m-2.5,-2.5 v5" stroke="#969696" stroke-width="1.15" fill="none"/><path d="M66.3,199.2 h5 m-2.5,-2.5 v5" stroke="#969696" stroke-width="1.15" fill="none"/><path d="M66.3,196.0 h5 m-2.5,-2.5 v5" stroke="#969696" stroke-width="1.15" fill="none"/><path d="M73.0,196.0 h5 m-2.5,-2.5 v5" stroke="#969696" stroke-width="1.15" fill="none"/><path d="M73.0,192.8 h5 m-2.5,-2.5 v5" stroke="#969696" stroke-width="1.15" fill="none"/><path d="M73.0,189.5 h5 m-2.5,-2.5 v5" stroke="#969696" stroke-width="1.15" fill="none"/><path d="M73.0,186.2 h5 m-2.5,-2.5 v5" stroke="#969696" stroke-width="1.15" fill="none"/><path d="M73.0,183.0 h5 m-2.5,-2.5 v5" stroke="#969696" stroke-width="1.15" fill="none"/><path d="M81.5,183.0 h5 m-2.5,-2.5 v5" stroke="#969696" stroke-width="1.15" fill="none"/><path d="M81.5,179.8 h5 m-2.5,-2.5 v5" stroke="#969696" stroke-width="1.15" fill="none"/><path d="M81.5,176.7 h5 m-2.5,-2.5 v5" stroke="#969696" stroke-width="1.15" fill="none"/><path d="M81.5,173.5 h5 m-2.5,-2.5 v5" stroke="#969696" stroke-width="1.15" fill="none"/><path d="M81.5,170.4 h5 m-2.5,-2.5 v5" stroke="#969696" stroke-width="1.15" fill="none"/><path d="M81.5,167.2 h5 m-2.5,-2.5 v5" stroke="#969696" stroke-width="1.15" fill="none"/><path d="M81.5,164.1 h5 m-2.5,-2.5 v5" stroke="#969696" stroke-width="1.15" fill="none"/><path d="M81.5,160.9 h5 m-2.5,-2.5 v5" stroke="#969696" stroke-width="1.15" fill="none"/><path d="M81.5,157.8 h5 m-2.5,-2.5 v5" stroke="#969696" stroke-width="1.15" fill="none"/><path d="M81.5,154.6 h5 m-2.5,-2.5 v5" stroke="#969696" stroke-width="1.15" fill="none"/><path d="M81.5,151.5 h5 m-2.5,-2.5 v5" stroke="#969696" stroke-width="1.15" fill="none"/><path d="M81.5,148.3 h5 m-2.5,-2.5 v5" stroke="#969696" stroke-width="1.15" fill="none"/><path d="M89.0,143.0 h5 m-2.5,-2.5 v5" stroke="#969696" stroke-width="1.15" fill="none"/><path d="M89.0,139.9 h5 m-2.5,-2.5 v5" stroke="#969696" stroke-width="1.15" fill="none"/><path d="M89.0,136.8 h5 m-2.5,-2.5 v5" stroke="#969696" stroke-width="1.15" fill="none"/><path d="M89.0,133.7 h5 m-2.5,-2.5 v5" stroke="#969696" stroke-width="1.15" fill="none"/><path d="M96.4,133.7 h5 m-2.5,-2.5 v5" stroke="#969696" stroke-width="1.15" fill="none"/><path d="M96.4,130.6 h5 m-2.5,-2.5 v5" stroke="#969696" stroke-width="1.15" fill="none"/><path d="M96.4,127.6 h5 m-2.5,-2.5 v5" stroke="#969696" stroke-width="1.15" fill="none"/><path d="M96.4,124.5 h5 m-2.5,-2.5 v5" stroke="#969696" stroke-width="1.15" fill="none"/><path d="M96.4,121.4 h5 m-2.5,-2.5 v5" stroke="#969696" stroke-width="1.15" fill="none"/><path d="M96.4,118.3 h5 m-2.5,-2.5 v5" stroke="#969696" stroke-width="1.15" fill="none"/><path d="M96.4,115.3 h5 m-2.5,-2.5 v5" stroke="#969696" stroke-width="1.15" fill="none"/><path d="M96.4,112.2 h5 m-2.5,-2.5 v5" stroke="#969696" stroke-width="1.15" fill="none"/><path d="M96.4,109.1 h5 m-2.5,-2.5 v5" stroke="#969696" stroke-width="1.15" fill="none"/><path d="M96.4,106.1 h5 m-2.5,-2.5 v5" stroke="#969696" stroke-width="1.15" fill="none"/><path d="M96.4,103.0 h5 m-2.5,-2.5 v5" stroke="#969696" stroke-width="1.15" fill="none"/><path d="M103.3,103.0 h5 m-2.5,-2.5 v5" stroke="#969696" stroke-width="1.15" fill="none"/><path d="M110.3,103.0 h5 m-2.5,-2.5 v5" stroke="#969696" stroke-width="1.15" fill="none"/><path d="M117.2,103.0 h5 m-2.5,-2.5 v5" stroke="#969696" stroke-width="1.15" fill="none"/><path d="M117.2,96.4 h5 m-2.5,-2.5 v5" stroke="#969696" stroke-width="1.15" fill="none"/><path d="M127.1,96.4 h5 m-2.5,-2.5 v5" stroke="#969696" stroke-width="1.15" fill="none"/><path d="M127.1,89.0 h5 m-2.5,-2.5 v5" stroke="#969696" stroke-width="1.15" fill="none"/><path d="M133.9,89.0 h5 m-2.5,-2.5 v5" stroke="#969696" stroke-width="1.15" fill="none"/><path d="M140.6,89.0 h5 m-2.5,-2.5 v5" stroke="#969696" stroke-width="1.15" fill="none"/><path d="M147.4,89.0 h5 m-2.5,-2.5 v5" stroke="#969696" stroke-width="1.15" fill="none"/><path d="M147.4,82.0 h5 m-2.5,-2.5 v5" stroke="#969696" stroke-width="1.15" fill="none"/><path d="M154.1,82.0 h5 m-2.5,-2.5 v5" stroke="#969696" stroke-width="1.15" fill="none"/><path d="M154.1,75.4 h5 m-2.5,-2.5 v5" stroke="#969696" stroke-width="1.15" fill="none"/><path d="M160.9,75.4 h5 m-2.5,-2.5 v5" stroke="#969696" stroke-width="1.15" fill="none"/><path d="M167.6,75.4 h5 m-2.5,-2.5 v5" stroke="#969696" stroke-width="1.15" fill="none"/><path d="M174.4,75.4 h5 m-2.5,-2.5 v5" stroke="#969696" stroke-width="1.15" fill="none"/><path d="M174.4,72.1 h5 m-2.5,-2.5 v5" stroke="#969696" stroke-width="1.15" fill="none"/><path d="M174.4,68.7 h5 m-2.5,-2.5 v5" stroke="#969696" stroke-width="1.15" fill="none"/><path d="M174.4,65.3 h5 m-2.5,-2.5 v5" stroke="#969696" stroke-width="1.15" fill="none"/><path d="M174.4,62.0 h5 m-2.5,-2.5 v5" stroke="#969696" stroke-width="1.15" fill="none"/><path d="M181.2,62.0 h5 m-2.5,-2.5 v5" stroke="#969696" stroke-width="1.15" fill="none"/><path d="M187.9,62.0 h5 m-2.5,-2.5 v5" stroke="#969696" stroke-width="1.15" fill="none"/><path d="M187.9,59.0 h5 m-2.5,-2.5 v5" stroke="#969696" stroke-width="1.15" fill="none"/><path d="M187.9,56.0 h5 m-2.5,-2.5 v5" stroke="#969696" stroke-width="1.15" fill="none"/><path d="M187.9,53.0 h5 m-2.5,-2.5 v5" stroke="#969696" stroke-width="1.15" fill="none"/><path d="M187.9,50.0 h5 m-2.5,-2.5 v5" stroke="#969696" stroke-width="1.15" fill="none"/><path d="M194.7,50.0 h5 m-2.5,-2.5 v5" stroke="#969696" stroke-width="1.15" fill="none"/><path d="M201.4,50.0 h5 m-2.5,-2.5 v5" stroke="#969696" stroke-width="1.15" fill="none"/><path d="M201.4,47.3 h5 m-2.5,-2.5 v5" stroke="#969696" stroke-width="1.15" fill="none"/><path d="M201.4,44.7 h5 m-2.5,-2.5 v5" stroke="#969696" stroke-width="1.15" fill="none"/><path d="M201.4,42.0 h5 m-2.5,-2.5 v5" stroke="#969696" stroke-width="1.15" fill="none"/><path d="M208.2,42.0 h5 m-2.5,-2.5 v5" stroke="#969696" stroke-width="1.15" fill="none"/><path d="M214.9,42.0 h5 m-2.5,-2.5 v5" stroke="#969696" stroke-width="1.15" fill="none"/><path d="M214.9,39.3 h5 m-2.5,-2.5 v5" stroke="#969696" stroke-width="1.15" fill="none"/><path d="M214.9,36.7 h5 m-2.5,-2.5 v5" stroke="#969696" stroke-width="1.15" fill="none"/><path d="M214.9,34.0 h5 m-2.5,-2.5 v5" stroke="#969696" stroke-width="1.15" fill="none"/><path d="M221.7,34.0 h5 m-2.5,-2.5 v5" stroke="#969696" stroke-width="1.15" fill="none"/><path d="M228.4,34.0 h5 m-2.5,-2.5 v5" stroke="#969696" stroke-width="1.15" fill="none"/><path d="M228.4,28.0 h5 m-2.5,-2.5 v5" stroke="#969696" stroke-width="1.15" fill="none"/><path d="M235.2,28.0 h5 m-2.5,-2.5 v5" stroke="#969696" stroke-width="1.15" fill="none"/><path d="M242.0,28.0 h5 m-2.5,-2.5 v5" stroke="#969696" stroke-width="1.15" fill="none"/><path d="M242.0,22.0 h5 m-2.5,-2.5 v5" stroke="#969696" stroke-width="1.15" fill="none"/><path d="M248.8,22.0 h5 m-2.5,-2.5 v5" stroke="#969696" stroke-width="1.15" fill="none"/><path d="M255.5,22.0 h5 m-2.5,-2.5 v5" stroke="#969696" stroke-width="1.15" fill="none"/><path d="M255.5,16.7 h5 m-2.5,-2.5 v5" stroke="#969696" stroke-width="1.15" fill="none"/><path d="M262.2,16.7 h5 m-2.5,-2.5 v5" stroke="#969696" stroke-width="1.15" fill="none"/><path d="M269.0,16.7 h5 m-2.5,-2.5 v5" stroke="#969696" stroke-width="1.15" fill="none"/><path d="M269.0,11.0 h5 m-2.5,-2.5 v5" stroke="#969696" stroke-width="1.15" fill="none"/><path d="M296.0,10.5 h5 m-2.5,-2.5 v5" stroke="#969696" stroke-width="1.15" fill="none"/></g>
<text x="37.3" y="260.5" font-size="10.6" text-anchor="end">0</text>
<text x="48.8" y="276.8" font-size="10.6" text-anchor="middle">0</text>
<text x="37.3" y="211.1" font-size="10.6" text-anchor="end">0.2</text>
<text x="98.8" y="276.8" font-size="10.6" text-anchor="middle">0.2</text>
<text x="37.3" y="161.7" font-size="10.6" text-anchor="end">0.4</text>
<text x="148.8" y="276.8" font-size="10.6" text-anchor="middle">0.4</text>
<text x="37.3" y="112.3" font-size="10.6" text-anchor="end">0.6</text>
<text x="198.8" y="276.8" font-size="10.6" text-anchor="middle">0.6</text>
<text x="37.3" y="62.9" font-size="10.6" text-anchor="end">0.8</text>
<text x="248.8" y="276.8" font-size="10.6" text-anchor="middle">0.8</text>
<text x="30.8" y="13.5" font-size="10.6" text-anchor="middle">1</text>
<text x="298.8" y="276.8" font-size="10.6" text-anchor="middle">1</text>
<text x="140.5" y="301.2" font-size="10.5" font-weight="bold" textLength="64.5" lengthAdjust="spacingAndGlyphs">1 - Specificity</text>
<text transform="translate(10,163.5) rotate(-90)" font-size="10.2" font-weight="bold" textLength="44.6" lengthAdjust="spacingAndGlyphs">Sensitivity</text>
<path d="M311.8,105.3 H324.7" stroke="#404040" stroke-width="1.6"/>
<path d="M318.4,102.6 l2.7,2.7 l-2.7,2.7 l-2.7,-2.7z" fill="#404040"/>
<text x="329.6" y="106.0" font-size="10.5" textLength="13.2" lengthAdjust="spacingAndGlyphs">VC</text>
<path d="M311.8,125.0 H324.7" stroke="#666666" stroke-width="1.6"/>
<path d="M318.4,122.0 l2.9,5.6 h-5.8z" fill="#666666"/>
<text x="329.6" y="126.0" font-size="10.5" textLength="18.3" lengthAdjust="spacingAndGlyphs">FVC</text>
<path d="M311.8,143.0 H324.7" stroke="#2a2a2a" stroke-width="1.6"/>
<path d="M316.1,140.7 l4.6,4.6 m0,-4.6 l-4.6,4.6" stroke="#2a2a2a" stroke-width="1.15" fill="none"/>
<text x="329.6" y="145.0" font-size="10.5" textLength="18.2" lengthAdjust="spacingAndGlyphs">MIP</text>
<path d="M311.8,162.3 H324.7" stroke="#787878" stroke-width="1.6"/>
<path d="M316.1,160.0 l4.6,4.6 m0,-4.6 l-4.6,4.6 m2.3,-4.9 v5.2" stroke="#787878" stroke-width="1.15" fill="none"/>
<text x="329.6" y="165.5" font-size="10.5" textLength="22" lengthAdjust="spacingAndGlyphs">MEP</text>
<path d="M311.8,181.0 H324.7" stroke="#c4c4c4" stroke-width="2.2"/>
<circle cx="318.4" cy="181.0" r="2.9" fill="#c4c4c4"/>
<text x="329.6" y="187.5" font-size="10.5" textLength="17.7" lengthAdjust="spacingAndGlyphs">PEF</text>
<path d="M311.8,199.8 H324.7" stroke="#969696" stroke-width="1.6"/>
<path d="M315.9,199.8 h5 m-2.5,-2.5 v5" stroke="#969696" stroke-width="1.15" fill="none"/>
<text x="329.6" y="209.0" font-size="10.5" textLength="24" lengthAdjust="spacingAndGlyphs">PCEF</text>
</g></svg></body></html>
